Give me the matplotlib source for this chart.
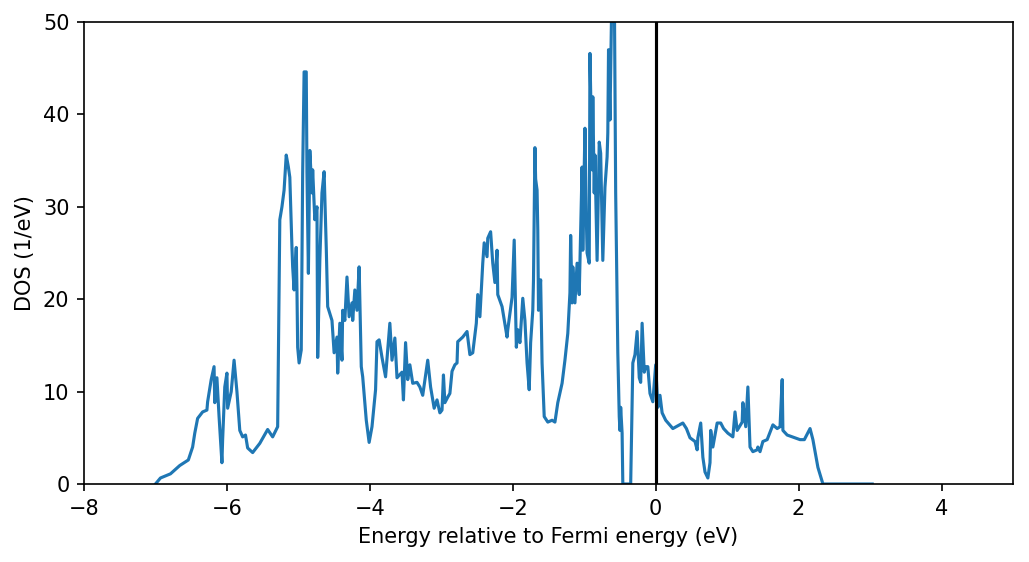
import matplotlib
matplotlib.use('Agg')
import numpy as np
import matplotlib.pyplot as plt

# energies (eV, relative to E_F) and DOS (1/eV)
energy = [
    -7.00, -6.93, -6.79, -6.66, -6.54, -6.48, -6.45, -6.41, -6.34, -6.28,
    -6.27, -6.22, -6.18, -6.17, -6.14, -6.11, -6.07, -6.06, -6.03, -6.00,
    -5.99, -5.94, -5.90, -5.86, -5.82, -5.78, -5.74, -5.71, -5.64, -5.54,
    -5.43, -5.36, -5.29, -5.26, -5.23, -5.20, -5.17, -5.14, -5.12, -5.09,
    -5.08, -5.06, -5.03, -5.02, -5.01, -4.99, -4.96, -4.95, -4.94, -4.92,
    -4.89, -4.88, -4.86, -4.84, -4.81, -4.80, -4.77, -4.74, -4.73, -4.70,
    -4.67, -4.64, -4.61, -4.59, -4.53, -4.50, -4.46, -4.45, -4.42, -4.39,
    -4.38, -4.35, -4.32, -4.29, -4.25, -4.24, -4.21, -4.18, -4.15, -4.12,
    -4.10, -4.05, -4.01, -3.97, -3.92, -3.90, -3.87, -3.83, -3.78, -3.72,
    -3.69, -3.65, -3.62, -3.55, -3.53, -3.50, -3.47, -3.44, -3.40, -3.34,
    -3.30, -3.26, -3.22, -3.19, -3.15, -3.10, -3.06, -3.02, -2.99, -2.97,
    -2.95, -2.91, -2.88, -2.85, -2.81, -2.78, -2.77, -2.70, -2.64, -2.60,
    -2.56, -2.51, -2.49, -2.46, -2.42, -2.40, -2.36, -2.35, -2.31, -2.28,
    -2.25, -2.22, -2.21, -2.15, -2.08, -2.07, -2.01, -1.98, -1.95, -1.93,
    -1.90, -1.86, -1.83, -1.80, -1.77, -1.75, -1.72, -1.71, -1.69, -1.68,
    -1.66, -1.65, -1.64, -1.61, -1.59, -1.56, -1.51, -1.45, -1.41, -1.37,
    -1.31, -1.27, -1.23, -1.20, -1.19, -1.17, -1.16, -1.13, -1.10, -1.07,
    -1.05, -1.03, -1.02, -0.99, -0.97, -0.96, -0.93, -0.92, -0.89, -0.88,
    -0.86, -0.85, -0.82, -0.79, -0.77, -0.74, -0.71, -0.68, -0.67, -0.66,
    -0.64, -0.61, -0.58, -0.56, -0.53, -0.51, -0.50, -0.49, -0.47, -0.46,
    -0.35, -0.32, -0.29, -0.26, -0.23, -0.21, -0.19, -0.16, -0.14, -0.11,
    -0.08, -0.04, 0.00, 0.03, 0.06, 0.09, 0.14, 0.24, 0.38, 0.43,
    0.48, 0.55, 0.58, 0.59, 0.63, 0.66, 0.69, 0.73, 0.76, 0.77,
    0.80, 0.86, 0.91, 0.95, 1.01, 1.08, 1.11, 1.14, 1.21, 1.22,
    1.26, 1.29, 1.32, 1.36, 1.42, 1.43, 1.46, 1.50, 1.56, 1.64,
    1.70, 1.74, 1.77, 1.78, 1.84, 2.02, 2.08, 2.16, 2.20, 2.27,
    2.34, 3.03,
]
dos = [
    0.0, 0.65, 1.1, 2.0, 2.6, 4.0, 5.5, 7.1, 7.8, 8.0,
    8.9, 11.3, 12.7, 8.8, 11.5, 7.3, 2.3, 4.8, 10.5, 12.0,
    8.2, 10.0, 13.4, 10.0, 5.8, 5.1, 5.3, 3.9, 3.4, 4.4,
    5.9, 5.1, 6.2, 28.6, 30.0, 31.8, 35.6, 34.3, 33.2, 25.6,
    23.5, 21.0, 25.6, 21.0, 14.8, 13.1, 14.5, 24.2, 33.7, 44.6,
    44.6, 33.7, 22.8, 36.1, 31.5, 34.0, 28.6, 30.0, 13.7, 24.2,
    31.5, 33.8, 25.6, 19.2, 17.7, 14.2, 15.9, 12.0, 17.4, 13.4,
    18.8, 17.7, 22.4, 18.1, 19.6, 17.7, 21.0, 18.8, 23.5, 12.7,
    11.6, 6.9, 4.5, 6.2, 10.2, 15.4, 15.6, 13.7, 11.6, 17.4,
    13.4, 15.8, 11.5, 12.1, 9.1, 15.3, 11.3, 12.9, 10.9, 11.0,
    10.5, 9.6, 11.8, 13.4, 10.5, 8.2, 9.1, 7.7, 8.0, 11.8,
    8.8, 9.4, 9.8, 12.2, 12.9, 13.1, 15.4, 15.9, 16.5, 14.0,
    14.2, 17.4, 20.5, 18.1, 23.9, 26.1, 24.6, 26.6, 27.3, 23.9,
    21.8, 25.3, 20.5, 19.2, 15.9, 16.7, 20.2, 26.4, 14.8, 16.7,
    15.3, 20.1, 17.7, 13.1, 10.2, 15.3, 18.8, 22.1, 36.4, 33.0,
    31.8, 27.5, 18.8, 22.1, 13.1, 7.3, 6.7, 6.9, 6.7, 8.8,
    10.9, 13.4, 16.3, 20.7, 26.9, 19.6, 23.5, 19.6, 23.9, 20.5,
    27.5, 34.3, 25.3, 38.5, 28.6, 25.0, 23.9, 46.6, 34.0, 41.9,
    31.5, 35.6, 24.2, 37.0, 35.8, 24.2, 32.1, 35.4, 38.0, 47.0,
    39.4, 55.0, 55.0, 31.5, 14.2, 7.3, 5.8, 8.3, 5.5, 0.0,
    0.0, 13.1, 14.0, 16.5, 11.5, 11.0, 17.4, 12.1, 12.7, 12.7,
    9.8, 8.9, 12.9, 8.3, 9.6, 7.7, 6.9, 6.0, 6.6, 6.0,
    5.0, 4.6, 3.7, 5.0, 6.6, 2.9, 1.3, 0.65, 2.3, 5.8,
    4.0, 6.6, 6.6, 6.0, 5.5, 5.1, 7.8, 5.8, 6.7, 8.8,
    6.2, 10.5, 4.0, 3.5, 3.7, 4.0, 3.5, 4.6, 4.8, 6.4,
    6.0, 6.2, 11.3, 5.8, 5.3, 4.8, 4.8, 6.0, 4.8, 1.8,
    0.0, 0.0,
]

fig = plt.figure(figsize=(1029 / 150, 562 / 150), dpi=150)
ax = fig.add_axes([84 / 1029, 1 - 484 / 562, (1013 - 84) / 1029, (484 - 22) / 562])

ax.plot(energy, dos, color='C0', lw=1.5)
ax.axvline(0, color='k', lw=1.5)

ax.set_xlim(-8, 5)
ax.set_ylim(0, 50)
ax.set_xlabel('Energy relative to Fermi energy (eV)')
ax.set_ylabel('DOS (1/eV)')

fig.savefig('out.png', dpi=150)
